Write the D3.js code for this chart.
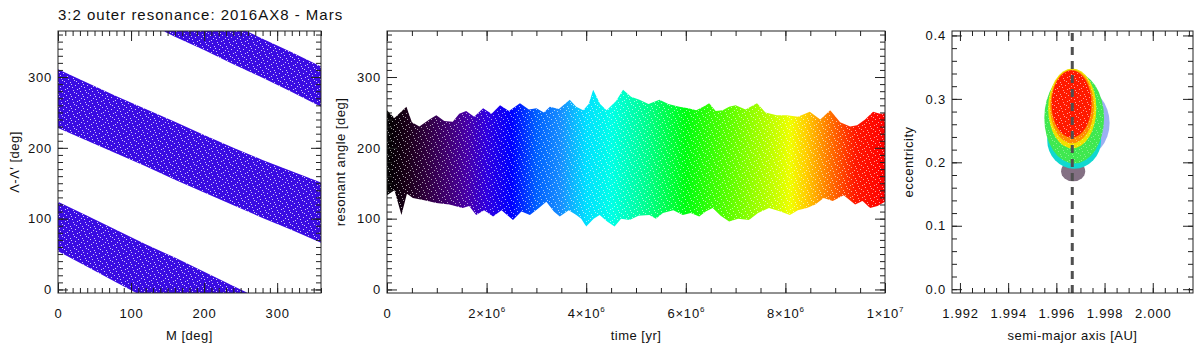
<!DOCTYPE html>
<html>
<head>
<meta charset="utf-8">
<script src="https://cdn.jsdelivr.net/npm/d3@7"></script>
<style>
  html, body { margin: 0; padding: 0; background: #fff; }
  svg { display: block; font-family: "Liberation Sans", Arial, Helvetica, sans-serif; }
  .tick text { font-size: 13px; fill: #111; letter-spacing: 0.8px; }
  .tick line { stroke: #222; }
</style>
</head>
<body>
<svg id="chart" width="1200" height="350"></svg>
<script>
// ---------------- DATA ----------------
const titleText = "3:2 outer resonance: 2016AX8 - Mars";

// Left panel: three diagonal bands of points (Λ-Λ' vs M), envelopes
const bandM      = [0, 40, 80, 120, 160, 200, 240, 280, 320, 360];
const bandLowUp  = [124, 104, 84, 64, 45, 25, 5, -15, -35, -55];
const bandLowLo  = [54, 32, 10, -12, -34, -56, -78, -100, -122, -144];
const bandMidUp  = [311, 292, 273, 255, 237, 218, 200, 183, 167, 151];
const bandMidLo  = [228, 210, 192, 174, 155, 137, 119, 101, 84, 66];
const bandTopUp  = [491, 472, 452, 433, 413, 394, 374, 354, 335, 315];
const bandTopLo  = [435, 416, 396, 377, 357, 338, 318, 299, 279, 258];
const leftXTicks = [0, 100, 200, 300];
const leftYTicks = [0, 100, 200, 300];

// Middle panel: resonant angle vs time, upper/lower envelopes (time in yr)
const upperT = [0, 0.15e6, 0.39e6, 0.5e6, 0.65e6, 0.85e6, 0.99e6, 1.15e6, 1.32e6, 1.45e6, 1.59e6, 1.75e6, 1.93e6, 2.1e6, 2.27e6, 2.45e6, 2.67e6, 2.85e6, 3.0e6, 3.15e6, 3.27e6, 3.45e6, 3.67e6, 3.8e6, 3.94e6, 4.05e6, 4.14e6, 4.28e6, 4.41e6, 4.6e6, 4.74e6, 4.9e6, 5.07e6, 5.25e6, 5.47e6, 5.65e6, 5.87e6, 6.05e6, 6.21e6, 6.35e6, 6.47e6, 6.6e6, 6.74e6, 6.87e6, 7.0e6, 7.2e6, 7.43e6, 7.6e6, 7.83e6, 8.03e6, 8.25e6, 8.49e6, 8.7e6, 8.9e6, 9.1e6, 9.3e6, 9.44e6, 9.6e6, 9.76e6, 9.9e6, 10e6];
const upperV = [253, 242, 258, 236, 230, 240, 246, 238, 237, 248, 252, 244, 256, 248, 260, 252, 263, 254, 256, 250, 258, 255, 268, 258, 253, 262, 282, 262, 253, 266, 282, 272, 268, 262, 268, 262, 258, 256, 253, 258, 263, 252, 253, 258, 260, 254, 263, 250, 246, 246, 244, 251, 240, 253, 236, 230, 232, 240, 251, 248, 249];
const lowerT = [0, 0.15e6, 0.29e6, 0.4e6, 0.52e6, 0.75e6, 0.99e6, 1.25e6, 1.52e6, 1.65e6, 1.79e6, 1.95e6, 2.13e6, 2.3e6, 2.53e6, 2.7e6, 2.87e6, 3.05e6, 3.2e6, 3.35e6, 3.47e6, 3.65e6, 3.8e6, 3.9e6, 4.0e6, 4.15e6, 4.27e6, 4.42e6, 4.57e6, 4.7e6, 4.87e6, 5.05e6, 5.27e6, 5.4e6, 5.54e6, 5.75e6, 5.94e6, 6.1e6, 6.27e6, 6.4e6, 6.54e6, 6.7e6, 6.87e6, 7.05e6, 7.27e6, 7.45e6, 7.67e6, 7.9e6, 8.09e6, 8.25e6, 8.43e6, 8.6e6, 8.77e6, 8.95e6, 9.17e6, 9.4e6, 9.55e6, 9.7e6, 9.85e6, 10e6];
const lowerV = [133, 140, 105, 135, 129, 126, 122, 120, 115, 118, 105, 112, 103, 112, 98, 110, 105, 115, 124, 110, 103, 112, 105, 100, 89, 100, 105, 96, 89, 100, 98, 104, 105, 100, 108, 112, 105, 108, 103, 110, 115, 104, 96, 100, 98, 108, 115, 110, 105, 112, 115, 120, 129, 125, 133, 120, 125, 115, 118, 124];
const rainbowT = [0, 0.4e6, 0.8e6, 1.2e6, 1.6e6, 2.0e6, 2.5e6, 3.0e6, 3.5e6, 4.0e6, 4.5e6, 5.2e6, 6.0e6, 6.9e6, 7.8e6, 8.1e6, 8.4e6, 8.7e6, 9.0e6, 9.4e6, 10e6];
const rainbowC = ["#000000", "#1a0018", "#300040", "#400070", "#4800a8", "#3000e0", "#0000ff", "#0060ff", "#1890ff", "#00e0ff", "#00ffe8", "#00ff90", "#00ff10", "#60ff00", "#c8ff00", "#f0ff00", "#ffd000", "#ff9800", "#ff6000", "#ff1800", "#ff0000"];
const midXTicks = [0, 2e6, 4e6, 6e6, 8e6, 1e7];
const midXLabels = [["0", ""], ["2×10", "6"], ["4×10", "6"], ["6×10", "6"], ["8×10", "6"], ["1×10", "7"]];
const midYTicks = [0, 100, 200, 300];

// Right panel: eccentricity vs semi-major axis, colour layers of the point cloud (back to front)
const blobName    = ["blue", "black", "cyan", "green", "yellow", "orange", "red"];
const blobA       = [1.996950, 1.996697, 1.996740, 1.996740, 1.996660, 1.996650, 1.996630];
const blobE       = [0.262, 0.186, 0.235, 0.270, 0.285, 0.288, 0.292];
const blobRA      = [0.00126, 0.00050, 0.00112, 0.00124, 0.00100, 0.00091, 0.00083];
const blobRE      = [0.056, 0.016, 0.045, 0.072, 0.063, 0.058, 0.053];
const blobColor   = ["#4a70e8", "#301030", "#10d8d0", "#40e850", "#f0e000", "#ff8c00", "#ff1a00"];
const blobOpacity = [0.55, 0.6, 1, 1, 1, 1, 1];
const resonanceA = 1.99666;
const rightXTicks = [1.992, 1.994, 1.996, 1.998, 2.000];
const rightYTicks = [0.0, 0.1, 0.2, 0.3, 0.4];

// ---------------- DRAWING ----------------
const svg = d3.select("#chart");
const top0 = 31, bot0 = 293;
const H = bot0 - top0;

const defs = svg.append("defs");
// speckle texture to mimic dense scatter of points
const pat = defs.append("pattern").attr("id", "speckle").attr("patternUnits", "userSpaceOnUse")
  .attr("width", 12).attr("height", 12);
[[0,3],[2,8],[4,1],[5,6],[7,10],[8,4],[10,0],[11,7],[3,11],[9,9],[6,2],[1,5]].forEach(p =>
  pat.append("rect").attr("x", p[0]).attr("y", p[1]).attr("width", 1).attr("height", 1).attr("fill", "#fff"));

svg.append("text").attr("x", 58).attr("y", 20).attr("font-size", 15).style("letter-spacing", "1px")
  .attr("fill", "#111").text(titleText);

function panel(id, x0, x1, xScale, yScale, xMaj, xMinStep, yMaj, yMinStep) {
  const w = x1 - x0;
  const g = svg.append("g").attr("transform", `translate(${x0},${top0})`);
  defs.append("clipPath").attr("id", "clip-" + id).append("rect").attr("width", w).attr("height", H);
  const plot = g.append("g").attr("clip-path", `url(#clip-${id})`);
  const xd = xScale.domain(), yd = yScale.domain();
  const xMin = d3.range(Math.ceil(xd[0] / xMinStep - 1e-9), Math.floor(xd[1] / xMinStep + 1e-9) + 1).map(k => k * xMinStep);
  const yMin = d3.range(Math.ceil(yd[0] / yMinStep - 1e-9), Math.floor(yd[1] / yMinStep + 1e-9) + 1).map(k => k * yMinStep);
  const axes = g.append("g");
  const mk = (sel, ax) => { sel.call(ax); sel.select(".domain").remove(); return sel; };
  mk(axes.append("g").attr("transform", `translate(0,${H})`), d3.axisBottom(xScale).tickValues(xMin).tickSizeInner(-5).tickSizeOuter(0).tickFormat(""));
  mk(axes.append("g"), d3.axisTop(xScale).tickValues(xMin).tickSizeInner(-5).tickSizeOuter(0).tickFormat(""));
  mk(axes.append("g"), d3.axisLeft(yScale).tickValues(yMin).tickSizeInner(-5).tickSizeOuter(0).tickFormat(""));
  mk(axes.append("g").attr("transform", `translate(${w},0)`), d3.axisRight(yScale).tickValues(yMin).tickSizeInner(-5).tickSizeOuter(0).tickFormat(""));
  mk(axes.append("g"), d3.axisTop(xScale).tickValues(xMaj).tickSizeInner(-10).tickSizeOuter(0).tickFormat(""));
  mk(axes.append("g").attr("transform", `translate(${w},0)`), d3.axisRight(yScale).tickValues(yMaj).tickSizeInner(-10).tickSizeOuter(0).tickFormat(""));
  const xb = mk(axes.append("g").attr("class", "xlab").attr("transform", `translate(0,${H})`), d3.axisBottom(xScale).tickValues(xMaj).tickSizeInner(-10).tickSizeOuter(0).tickPadding(15.5));
  const yl = mk(axes.append("g").attr("class", "ylab"), d3.axisLeft(yScale).tickValues(yMaj).tickSizeInner(-10).tickSizeOuter(0).tickPadding(6));
  g.append("rect").attr("width", w).attr("height", H).attr("fill", "none").attr("stroke", "#222").attr("stroke-width", 1);
  return { g, plot, xb, yl, w };
}

// ---- Left panel ----
const xL = d3.scaleLinear().domain([0, 360]).range([0, 321 - 58]);
const yL = d3.scaleLinear().domain([-5, 365]).range([H, 0]);
const pL = panel("L", 58, 321, xL, yL, leftXTicks, 10, leftYTicks, 10);
const bandArea = (up, lo) => d3.area().x((d, i) => xL(bandM[i])).y0((d, i) => yL(lo[i])).y1((d, i) => yL(up[i]))(bandM);
[[bandLowUp, bandLowLo], [bandMidUp, bandMidLo], [bandTopUp, bandTopLo]].forEach(([u, l]) => {
  pL.plot.append("path").attr("d", bandArea(u, l)).attr("fill", "#3a0ce2");
  pL.plot.append("path").attr("d", bandArea(u, l)).attr("fill", "url(#speckle)").attr("opacity", 0.75);
});
pL.xb.selectAll("text").text(d => d3.format("d")(d));
pL.yl.selectAll("text").text(d => d3.format("d")(d));

// ---- Middle panel ----
const xM = d3.scaleLinear().domain([0, 1e7]).range([0, 885 - 387]);
const yM = d3.scaleLinear().domain([-5, 365]).range([H, 0]);
const pM = panel("M", 387, 885, xM, yM, midXTicks, 5e5, midYTicks, 10);
const grad = defs.append("linearGradient").attr("id", "rainbow").attr("gradientUnits", "userSpaceOnUse")
  .attr("x1", xM(0)).attr("x2", xM(1e7)).attr("y1", 0).attr("y2", 0);
rainbowT.forEach((t, i) => grad.append("stop").attr("offset", t / 1e7).attr("stop-color", rainbowC[i]));
const envPts = upperT.map((t, i) => [xM(t), yM(upperV[i])])
  .concat(lowerT.map((t, i) => [xM(t), yM(lowerV[i])]).reverse());
pM.plot.append("path").attr("d", d3.line()(envPts) + "Z").attr("fill", "url(#rainbow)");
pM.plot.append("path").attr("d", d3.line()(envPts) + "Z").attr("fill", "url(#speckle)").attr("opacity", 0.6);
pM.yl.selectAll("text").text(d => d3.format("d")(d));
pM.xb.selectAll("text").each(function(d, i) {
  const t = d3.select(this).text("");
  t.append("tspan").text(midXLabels[i][0]);
  if (midXLabels[i][1]) t.append("tspan").attr("font-size", 8).attr("dy", "-6").text(midXLabels[i][1]);
});

// ---- Right panel ----
const xR = d3.scaleLinear().domain([1.99167, 2.00167]).range([0, 1193 - 952]);
const yR = d3.scaleLinear().domain([-0.006, 0.407]).range([H, 0]);
const pR = panel("R", 952, 1193, xR, yR, rightXTicks, 0.0005, rightYTicks, 0.02);
const ell = (i, sel) => sel
  .attr("cx", xR(blobA[i])).attr("cy", yR(blobE[i]))
  .attr("rx", xR(blobA[i] + blobRA[i]) - xR(blobA[i]))
  .attr("ry", yR(blobE[i] - blobRE[i]) - yR(blobE[i]));
blobName.forEach((n, i) => {
  ell(i, pR.plot.append("ellipse")).attr("fill", blobColor[i]).attr("opacity", blobOpacity[i]);
});
blobName.forEach((n, i) => {
  if (n === "red" || n === "green") ell(i, pR.plot.append("ellipse")).attr("fill", "url(#speckle)").attr("opacity", 0.35);
});
pR.plot.append("line").attr("x1", xR(resonanceA)).attr("x2", xR(resonanceA))
  .attr("y1", yR(-0.006)).attr("y2", yR(0.407))
  .attr("stroke", "#505050").attr("stroke-width", 3).attr("stroke-dasharray", "8,6");
pR.xb.selectAll("text").text(d => d3.format(".3f")(d));
pR.yl.selectAll("text").text(d => d3.format(".1f")(d));

// ---- axis titles ----
const lab = (x, y, txt, rot) => {
  const t = svg.append("text").attr("font-size", 13).style("letter-spacing", "0.5px").attr("fill", "#111")
    .attr("text-anchor", "middle").text(txt);
  if (rot) t.attr("transform", `translate(${x},${y}) rotate(-90)`).attr("dy", "0.35em");
  else t.attr("x", x).attr("y", y);
};
lab((58 + 321) / 2, 340, "M [deg]");
lab((387 + 885) / 2, 340, "time [yr]");
lab((952 + 1193) / 2, 340, "semi-major axis [AU]");
lab(14, 162, "Λ-Λ′ [deg]", true);
lab(340, 162, "resonant angle [deg]", true);
lab(908, 162, "eccentricity", true);
</script>
</body>
</html>
